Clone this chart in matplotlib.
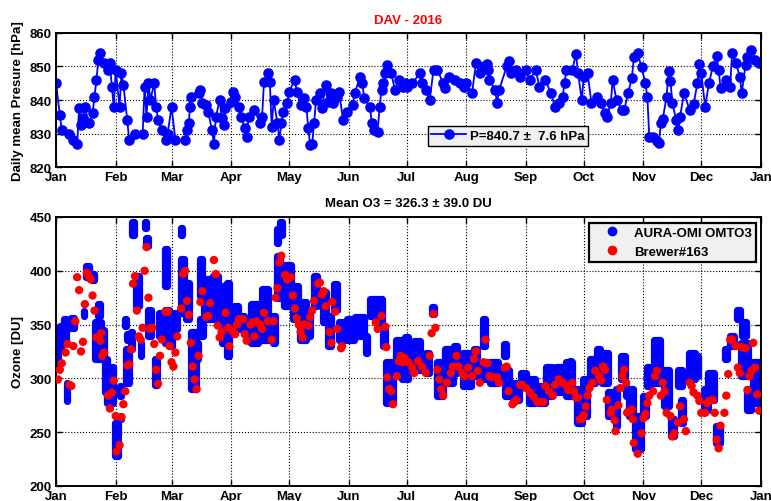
import matplotlib
matplotlib.use("Agg")
import matplotlib.pyplot as plt
from matplotlib.lines import Line2D

plt.rcParams['font.family'] = ['Liberation Sans', 'DejaVu Sans']
plt.rcParams['font.weight'] = 'bold'

# ---- Daily mean station pressure, Davos 2016 (day of year from 1 Jan) ----
p_day = [0, 2, 3, 7, 9, 11, 12, 13, 14, 15, 17, 19, 20, 21, 22, 23, 25, 27, 28, 29,
         30, 31, 33, 34, 35, 37, 38, 41, 45, 46, 47, 48, 49, 51, 52, 53, 55, 57, 58, 60,
         62, 67, 68, 69, 69.5, 70, 74, 75, 76, 78, 79, 81, 82, 83, 85, 86, 87, 88, 91, 92,
         93, 95, 96, 98, 99, 100, 103, 106, 107, 108, 110, 111, 112, 113, 115, 116, 117, 118, 120, 121,
         124, 125, 127, 129, 130, 131, 132, 133, 134, 135, 137, 138, 140, 141, 143, 144, 146, 147, 149, 151,
         154, 155, 158, 159, 160, 163, 164, 165, 167, 168, 169, 170, 171, 172, 174, 176, 178, 180, 181,
         182, 185, 189, 190, 192, 194, 196, 198, 201, 202, 204, 207, 210, 212, 213, 216, 218, 220, 222, 224,
         224.5, 225, 228, 229, 230, 234, 235, 236, 239, 241, 244, 246, 249, 251, 254, 257, 259, 261, 263, 264,
         265, 268, 270, 271, 273, 274, 276, 278, 281, 283, 285, 286, 288, 289, 291, 294, 295, 297, 299, 300,
         302, 304, 306, 307, 308, 310, 312, 313, 314, 315, 317, 318, 319, 320, 322, 323, 324, 326, 329, 331,
         333, 334, 335, 337, 339, 341, 343, 344, 345, 348, 350, 351, 353, 355, 356, 358, 359, 361, 363, 365]
p_hpa = [845.2, 835.5, 831, 830, 828, 827, 837.5, 832.5, 834.5, 838, 833, 836, 841, 846, 852, 854, 851, 849, 851, 844,
         838, 849, 838, 848, 844.5, 834, 828, 830, 830, 844, 835, 845, 840, 845, 838, 834, 831, 828, 830, 838,
         828, 828, 831, 833, 838, 841, 842, 843, 839, 838.5, 836.5, 831, 827, 835, 840, 834.5, 832.5, 837.5, 839.5, 842.5,
         841, 838, 835, 831.5, 829, 835, 837, 833, 835, 845.5, 848, 845.5, 832, 840, 833, 828, 833, 836.5, 839, 842.5,
         846, 842.5, 838.5, 840.5, 838, 831.5, 826.5, 827, 833, 840, 842, 837.5, 844.5, 839.5, 842, 839, 841, 842.5, 834, 836.5,
         838.5, 842, 847, 845, 840.5, 838, 833, 831, 830.5, 838, 843, 845, 848, 850.5, 848, 843, 846, 844, 845,
         844, 845, 848, 845, 843, 840, 849, 849, 845, 843.7, 847, 846, 845, 844, 845, 842, 851, 848, 850, 850.7,
         849, 846, 843, 839, 843, 850, 851.7, 848, 849, 847, 849, 846, 849, 844, 846, 842, 838, 839, 841, 845,
         849, 849, 853.7, 848, 840, 847, 848, 839, 841, 839, 836, 835, 839, 846, 840, 837, 837, 842, 846.7, 852.7,
         854, 849.7, 845, 841, 829, 829, 827.8, 827.3, 833, 834.3, 841, 848.7, 845.7, 839, 834, 831, 835, 842, 837, 838.7,
         845, 850.7, 848, 838, 845, 850, 853, 849, 843.7, 846, 844, 854, 851, 847, 842, 850.5, 852.7, 855, 852, 851]

# ---- AURA-OMI OMTO3 overpasses: clusters of columns (first day, last day, low, high) ----
omi_start = [0, 2, 4, 5.5, 8, 13, 14.5, 15.5, 18.5, 22, 20.5, 24, 25.5, 26.5, 30.5, 33, 33.5, 36, 37, 36.5,
             39, 39, 39.5, 41.5, 46, 46.5, 44, 48, 51.5, 53.5, 56.5, 56.5, 59, 60.5, 62, 65, 65, 67.5, 70, 73,
             75, 75, 77, 81.5, 86, 90,
             89, 93, 96, 101, 107, 112.5, 114.5, 116.5, 114.5, 118.5, 123, 126.5, 130.5, 134, 137, 138.5, 141, 144.5,
             147, 151, 155, 161, 163, 167.5, 170, 171.5, 176.5, 181,
             179.5, 186, 192, 195, 198, 202, 206.5, 211.5, 217, 221.5, 222, 225.5, 232.5, 233, 237.5, 241.5, 245.5,
             251, 254.5, 259.5, 265, 267, 270.5,
             273.5, 277, 281, 283.5, 286.5, 290.5, 293.5, 296, 297.5, 300.5, 304.5, 307, 310.5, 315.5, 319.5, 323,
             324.5, 328.5, 331.5, 336.5, 338.5, 342.5, 347.5, 350, 353.5, 356, 355.5, 359, 362]
omi_end = [1, 2.5, 5, 5.5, 9.5, 13, 14.5, 17, 19.5, 23, 23.5, 25, 26.5, 29.5, 32, 33.5, 33.5, 36.5, 37, 38,
           39.5, 39, 40.5, 43, 46.5, 48, 44, 49.5, 52.5, 55, 57.5, 58.5, 60, 60.5, 63, 65.5, 66.5, 69, 72.5, 73.5,
           76, 76.5, 80.5, 84, 87.5, 91.5,
           90, 94.5, 97.5, 105, 110, 113.5, 115.5, 117.5, 116.5, 122, 125.5, 130, 132, 135.5, 137, 140, 143, 146,
           150, 154.5, 160, 161.5, 167, 169.5, 171, 175, 180, 183,
           183, 189, 193.5, 196, 201, 206, 208, 215.5, 218.5, 222.5, 223, 229.5, 233.5, 235, 240.5, 244, 248.5,
           254, 257.5, 262.5, 268, 267.5, 273,
           275.5, 280, 282.5, 286.5, 288.5, 291.5, 295.5, 296, 299.5, 303.5, 306.5, 308.5, 313.5, 318.5, 321, 325,
           325.5, 331.5, 333.5, 338.5, 341.5, 344.5, 348.5, 352, 355, 358, 359.5, 361, 365]
omi_lo = [311, 327, 333, 279, 347, 316, 358, 394, 391, 358, 318, 320, 287, 277, 228, 284, 262, 349, 336, 296,
          327, 374, 433, 367, 440, 423, 321, 339, 294, 339, 386, 333, 330, 305, 346, 433, 361, 355, 290, 318,
          377, 339, 355, 355, 333, 349,
          321, 346, 346, 333, 336, 333, 426, 433, 375, 367, 355, 336, 339, 367, 408, 352, 330, 364,
          336, 336, 339, 324, 358, 349, 330, 277, 302, 321,
          299, 308, 305, 360, 284, 296, 305, 293, 302, 330, 299, 296, 321, 284, 280, 293, 277,
          277, 284, 287, 284, 308, 259,
          265, 296, 308, 296, 265, 256, 299, 284, 265, 234, 265, 293, 296, 274, 246, 293,
          259, 299, 302, 271, 280, 240, 318, 330, 355, 339, 302, 271, 277]
omi_hi = [333, 349, 355, 296, 356, 316, 363, 404, 397, 369, 352, 345, 318, 311, 259, 293, 265, 355, 341, 327,
          343, 374, 445, 395, 445, 430, 333, 364, 318, 361, 420, 364, 361, 305, 361, 440, 411, 389, 343, 333,
          411, 355, 392, 395, 386, 367,
          389, 367, 358, 369, 383, 358, 439, 445, 414, 405, 386, 371, 364, 395, 408, 380, 358, 388,
          352, 355, 357, 339, 374, 374, 346, 315, 336, 338,
          336, 335, 324, 366, 315, 327, 330, 324, 327, 355, 315, 315, 332, 308, 296, 305, 299,
          293, 311, 311, 315, 316, 290,
          299, 318, 327, 324, 287, 290, 321, 293, 290, 265, 284, 311, 336, 308, 262, 308,
          280, 324, 321, 290, 305, 256, 327, 339, 364, 352, 333, 290, 315]

# ---- Brewer #163 total ozone ----
brw_day = [1, 2, 3, 5, 6, 7, 8, 9, 10, 11, 12, 13, 14, 15, 16, 17, 18, 19, 20, 21,
           23, 23.5, 24, 25, 27, 28, 29, 30, 31, 31.5, 33, 34, 35, 36, 37, 38, 39, 40, 41, 42,
           43, 44, 45, 46, 47, 48, 49, 50, 51, 52, 53, 54, 55, 57, 58, 59, 60, 61, 62, 63,
           65, 66, 67, 68, 69, 70, 71, 72, 73, 74, 75, 76, 78, 79, 80, 82, 83, 84, 85, 86,
           88, 89.5, 90, 91.6, 93, 94, 95, 97, 98, 99, 101, 102, 103, 104, 106, 107, 108, 110, 112, 113,
           114, 115, 116, 117, 119, 120, 122, 123, 124, 125, 126, 127, 128, 129, 131, 132, 133, 134, 136, 137,
           138, 139, 140, 142, 143, 143.5, 145, 146, 148, 148.5, 166, 167, 169, 171, 171.5, 172, 173, 174, 175, 177,
           178, 179, 180, 181, 183, 185, 186, 188, 190, 192, 194, 195, 196, 197, 198, 199, 200, 201, 203, 205,
           206, 208, 209, 211, 212, 214, 216, 217, 218, 219, 220, 222, 223, 224, 225, 227, 229, 230, 233, 234,
           235, 237, 238, 239, 241, 242, 244, 246, 248, 250, 252, 253, 254, 256, 258, 259, 261, 263, 265, 266,
           268, 269, 270, 271, 272, 273, 274, 275, 276, 277, 278.5, 280, 282, 283, 284, 285, 286, 288, 288.5, 290,
           290.5, 292, 293, 294, 295, 296, 296.5, 297, 299, 299.5, 300, 302, 304, 305, 306, 307, 308, 310, 311, 312,
           314, 315, 316, 317, 319, 320, 321, 323, 324, 326, 327, 329, 330, 331, 333, 334, 335, 337, 338, 339,
           341, 342, 343, 344, 345, 347, 348, 349, 350, 351, 353, 354, 355, 356, 358, 359, 360, 361, 362, 363,
           364, 365]
brw_o3 = [299, 308, 314, 324, 332, 294, 293, 330, 353, 394, 382, 325, 334, 369, 398, 395, 392, 377, 363, 338,
          335, 342, 321, 324, 284, 272, 287, 298, 265, 232, 238, 264, 276, 288, 312, 313, 327, 388, 395, 363,
          339, 336, 347, 400, 422, 375, 346, 347, 332, 308, 295, 321, 336, 362, 362, 330, 315, 311, 324, 339,
          365, 397, 400, 372, 359, 333, 311, 299, 290, 321, 371, 381, 357, 358, 370, 410, 397, 349, 338, 343,
          361, 347, 330, 344, 341, 350, 355, 355, 341, 335, 350, 352, 339, 353, 350, 346, 361, 353, 336, 353,
          375, 384, 408, 414, 396, 392, 394, 377, 365, 356, 350, 343, 338, 350, 349, 357, 363, 372, 388, 389,
          378, 381, 367, 343, 333, 371, 362, 346, 328, 330, 352, 346, 358, 348, 329, 301, 290, 288, 276, 302,
          316, 321, 315, 319, 315, 310, 305, 316, 311, 305, 321, 342, 360, 347, 308, 299, 290, 284, 296, 305,
          311, 321, 311, 305, 302, 310, 302, 318, 325, 307, 296, 315, 336, 314, 302, 301, 301, 296, 310, 311,
          288, 276, 278, 280, 294, 294, 291, 287, 283, 278, 278, 278, 293, 288, 284, 294, 299, 296, 293, 289,
          296, 288, 282, 282, 262, 262, 266, 274, 284, 291, 296, 307, 302, 298, 311, 308, 280, 268, 271, 261,
          251, 275, 291, 302, 308, 296, 268, 269, 271, 262, 240, 230, 249, 263, 267, 277, 284, 288, 302, 307,
          284, 296, 288, 268, 265, 246, 249, 259, 274, 262, 251, 296, 293, 287, 284, 279, 268, 268, 277, 279,
          280, 268, 243, 235, 256, 268, 284, 304, 336, 336, 330, 310, 305, 329, 328, 289, 302, 307, 333, 310,
          285, 270]

month_ticks = [0, 31, 60, 91, 121, 152, 182, 213, 244, 274, 305, 335, 366]
month_labels = ['Jan', 'Feb', 'Mar', 'Apr', 'May', 'Jun', 'Jul', 'Aug', 'Sep', 'Oct', 'Nov', 'Dec', 'Jan']

station_title = 'DAV - 2016'
pressure_label = 'P=840.7 \u00b1  7.6 hPa'
ozone_title = 'Mean O3 = 326.3 \u00b1 39.0 DU'

BLUE = (0, 0, 1)
RED = (1, 0, 0)
FS = 9.5


def style_axes(ax):
    ax.set_xlim(0, 366)
    ax.set_xticks(month_ticks)
    ax.set_xticklabels(month_labels)
    ax.grid(True, color='black', linestyle=':', linewidth=0.8)
    ax.set_axisbelow(True)
    ax.tick_params(direction='in', top=True, right=True, length=4, width=1,
                   labelsize=FS, pad=3)
    for lab in ax.get_xticklabels() + ax.get_yticklabels():
        lab.set_fontweight('bold')
    for sp in ax.spines.values():
        sp.set_linewidth(1.4)
        sp.set_color('black')


fig = plt.figure(figsize=(7.71, 5.02), dpi=100)
fig.patch.set_facecolor('white')

# --- pressure panel ---
ax1 = fig.add_axes([0.0726, 0.6653, 0.9144, 0.2670])
ax1.plot(p_day, p_hpa, '-o', color=BLUE, lw=1.3, ms=6.6, mfc=BLUE, mec=BLUE,
         label=pressure_label)
ax1.set_ylim(820, 860)
ax1.set_yticks([820, 830, 840, 850, 860])
style_axes(ax1)
ax1.set_ylabel('Daily mean Presure [hPa]', fontsize=FS, fontweight='bold', labelpad=4)
ax1.set_title(station_title, color=RED, fontsize=FS, fontweight='bold', pad=7)
leg1 = ax1.legend(loc='lower left', bbox_to_anchor=(0.527, 0.157), borderaxespad=0,
                  fontsize=FS, frameon=True, fancybox=False, edgecolor='black',
                  facecolor='#f0f0f0', framealpha=1, handlelength=2.6, borderpad=0.3,
                  handletextpad=0.3)
leg1.get_frame().set_linewidth(1.0)
for t in leg1.get_texts():
    t.set_fontweight('bold')

# --- ozone panel ---
ax2 = fig.add_axes([0.0726, 0.0299, 0.9144, 0.5359])
omi_w = [e - s for s, e in zip(omi_start, omi_end)]
omi_h = [h - l for l, h in zip(omi_lo, omi_hi)]
bars = ax2.bar(omi_start, omi_h, width=omi_w, bottom=omi_lo, align='edge',
               color=BLUE, edgecolor=BLUE, linewidth=5.2, zorder=2)
for b in bars:
    b.set_joinstyle('round')
    b.set_capstyle('round')
ax2.scatter(brw_day, brw_o3, s=36, color=RED, edgecolors='none', zorder=3)
ax2.set_ylim(200, 450)
ax2.set_yticks([200, 250, 300, 350, 400, 450])
style_axes(ax2)
ax2.set_ylabel('Ozone [DU]', fontsize=FS, fontweight='bold', labelpad=4)
ax2.set_title(ozone_title, color='black', fontsize=FS, fontweight='bold', pad=8)

handles = [Line2D([], [], ls='none', marker='o', ms=6, color=BLUE),
           Line2D([], [], ls='none', marker='o', ms=6, color=RED)]
leg2 = ax2.legend(handles, ['AURA-OMI OMTO3', 'Brewer#163'], loc='upper right',
                  bbox_to_anchor=(0.993, 0.978), borderaxespad=0, fontsize=FS,
                  frameon=True, fancybox=False, edgecolor='black', facecolor='#f0f0f0',
                  framealpha=1, handlelength=3.0, borderpad=0.3, labelspacing=0.5,
                  handletextpad=0.15)
leg2.get_frame().set_linewidth(1.6)
for t in leg2.get_texts():
    t.set_fontweight('bold')

fig.savefig('out.png', dpi=100, facecolor='white')
